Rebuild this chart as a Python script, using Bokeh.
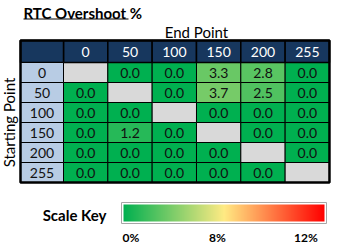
import numpy as np
from bokeh.plotting import figure
from bokeh.models import Range1d
from bokeh.core.properties import value
from bokeh.embed import file_html
from bokeh.resources import INLINE

# ---------------- data ----------------
end_points = ["0", "50", "100", "150", "200", "255"]
start_points = ["0", "50", "100", "150", "200", "255"]
from_0 = [None, 0.0, 0.0, 3.3, 2.8, 0.0]
from_50 = [0.0, None, 0.0, 3.7, 2.5, 0.0]
from_100 = [0.0, 0.0, None, 0.0, 0.0, 0.0]
from_150 = [0.0, 1.2, 0.0, None, 0.0, 0.0]
from_200 = [0.0, 0.0, 0.0, 0.0, None, 0.0]
from_255 = [0.0, 0.0, 0.0, 0.0, 0.0, None]
scale_stops = [0, 8, 12]
scale_labels = ["0%", "8%", "12%"]

rows = [from_0, from_50, from_100, from_150, from_200, from_255]

# ---------------- style ----------------
FONT = "Lato"
NAVY = "#17375E"
LABEL_BG = "#B8CCE4"
DIAG = "#D9D9D9"
stop_rgb = [(0, 176, 80), (255, 235, 132), (255, 0, 0)]

W, H = 341, 244
COL_W = 44.33
ROW_H = 20.0
X0, Y0 = 63.0, 62.0


def ux(px):
    return (px - X0) / COL_W


def uy(py):
    return (py - Y0) / ROW_H


def color_for(v):
    xs = scale_stops
    r = np.interp(v, xs, [c[0] for c in stop_rgb])
    g = np.interp(v, xs, [c[1] for c in stop_rgb])
    b = np.interp(v, xs, [c[2] for c in stop_rgb])
    return "#%02x%02x%02x" % (int(round(r)), int(round(g)), int(round(b)))


p = figure(width=W, height=H, output_backend="svg", toolbar_location=None,
           x_range=Range1d(ux(0), ux(W)), y_range=Range1d(uy(H), uy(0)),
           min_border=0, border_fill_color="white", background_fill_color="white")
p.axis.visible = False
p.grid.visible = False
p.outline_line_color = None

lab_w = (X0 - 20) / COL_W
hdr_h = (Y0 - 40) / ROW_H

# data cells
cx, cy, cc, tx, ty, tt = [], [], [], [], [], []
for r, row in enumerate(rows):
    for c, v in enumerate(row):
        cx.append(c + 0.5)
        cy.append(r + 0.5)
        if v is None:
            cc.append(DIAG)
        else:
            cc.append(color_for(v))
            tx.append(c + 0.5)
            ty.append(r + 0.5)
            tt.append("%.1f" % v)
p.rect(x=cx, y=cy, width=1, height=1, fill_color=cc, line_color="black", line_width=1)
p.text(x=tx, y=ty, text=tt, text_align="center", text_baseline="middle",
       text_font=value(FONT), text_font_size="14px", text_color="#111111")

# header row
hx = [c + 0.5 for c in range(len(end_points))]
p.rect(x=hx, y=[-hdr_h / 2] * len(hx), width=1, height=hdr_h, fill_color=NAVY,
       line_color="black", line_width=1.5)
p.rect(x=[-lab_w / 2], y=[-hdr_h / 2], width=lab_w, height=hdr_h, fill_color=NAVY,
       line_color="black", line_width=1.5)
p.text(x=hx, y=[-hdr_h / 2] * len(hx), text=end_points, text_align="center",
       text_baseline="middle", text_font=value(FONT), text_font_size="14px",
       text_color="white")

# row labels
ry = [r + 0.5 for r in range(len(start_points))]
p.rect(x=[-lab_w / 2] * len(ry), y=ry, width=lab_w, height=1, fill_color=LABEL_BG,
       line_color="black", line_width=1)
p.text(x=[-lab_w / 2] * len(ry), y=ry, text=start_points, text_align="center",
       text_baseline="middle", text_font=value(FONT), text_font_size="14px",
       text_color="#111111")

# outer border
n = len(end_points)
m = len(start_points)
p.rect(x=[(n - lab_w) / 2], y=[(m - hdr_h) / 2], width=n + lab_w, height=m + hdr_h,
       fill_alpha=0, line_color="black", line_width=2.5)

# titles
p.text(x=[ux(23)], y=[uy(12)], text=["RTC Overshoot %"], text_align="left",
       text_baseline="middle", text_font=value(FONT), text_font_size="15px",
       text_font_style="bold", text_color="black")
p.segment(x0=[ux(23)], y0=[uy(18.5)], x1=[ux(128)], y1=[uy(18.5)], line_color="black",
          line_width=1)
p.text(x=[n / 2], y=[uy(31.5)], text=["End Point"], text_align="center",
       text_baseline="middle", text_font=value(FONT), text_font_size="15px",
       text_color="black")
p.text(x=[ux(8)], y=[m / 2], text=["Starting Point"], angle=np.pi / 2,
       text_align="center", text_baseline="middle", text_font=value(FONT),
       text_font_size="15px", text_color="black")

# scale key
p.text(x=[ux(106)], y=[uy(214)], text=["Scale Key"], text_align="right",
       text_baseline="middle", text_font=value(FONT), text_font_size="15px",
       text_font_style="bold", text_color="black")
bx0, bx1, by0, by1 = 121, 326, 202, 223
p.rect(x=[ux((bx0 + bx1) / 2)], y=[uy((by0 + by1) / 2)], width=(bx1 - bx0) / COL_W,
       height=(by1 - by0) / ROW_H, fill_color="white", line_color="#A6A6A6", line_width=1)
gx0, gx1, gy0, gy1 = 123, 324, 204, 221
npx = gx1 - gx0
stop_frac = [0.0, 0.5, 1.0]
img = np.zeros((2, npx), dtype=np.uint32)
view = img.view(dtype=np.uint8).reshape((2, npx, 4))
f = (np.arange(npx) + 0.5) / npx
for k in range(3):
    view[:, :, k] = np.interp(f, stop_frac, [c[k] for c in stop_rgb]).astype(np.uint8)
view[:, :, 3] = 255
p.image_rgba(image=[img], x=ux(gx0), y=uy(gy0), dw=npx / COL_W, dh=(gy1 - gy0) / ROW_H)

label_frac = [0.005, 0.468, 0.9]
label_align = ["left", "center", "center"]
for lab, fr, al in zip(scale_labels, label_frac, label_align):
    p.text(x=[ux(bx0 + fr * (bx1 - bx0))], y=[uy(237)], text=[lab], text_align=al,
           text_baseline="middle", text_font=value(FONT), text_font_size="12px",
           text_font_style="bold", text_color="black")

open("out.html", "w").write(file_html(p, INLINE))
